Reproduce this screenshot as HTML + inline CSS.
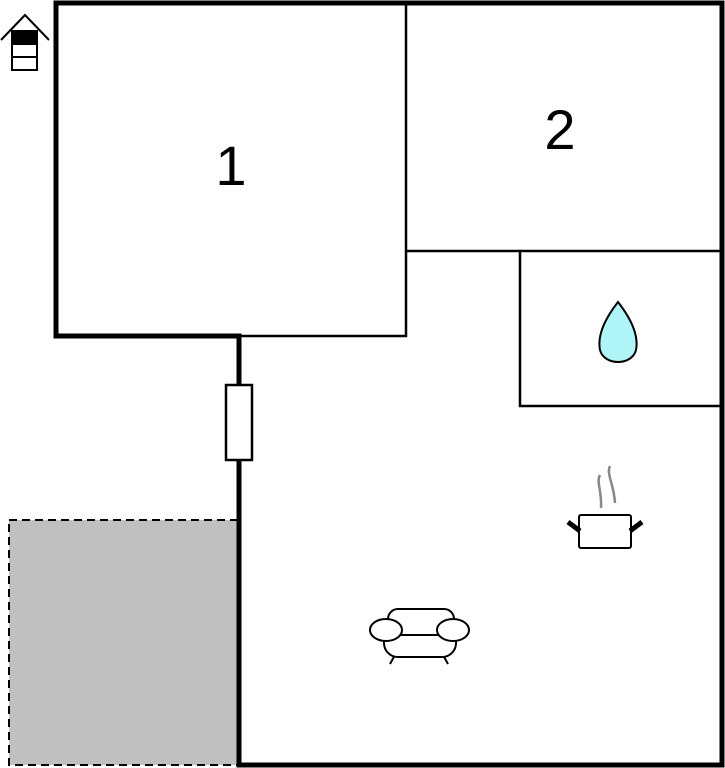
<!DOCTYPE html>
<html><head><meta charset="utf-8"><style>html,body{margin:0;padding:0;background:#fff}svg{display:block}</style></head>
<body>
<svg width="725" height="768" viewBox="0 0 725 768" xmlns="http://www.w3.org/2000/svg">
<rect x="9" y="520" width="229" height="245" fill="#c0c0c0" stroke="#000" stroke-width="2" stroke-dasharray="8,5"/>
<g stroke="#000" fill="none">
<path d="M56 3H722V765H239V336H56Z" stroke-width="5"/>
<path d="M406 3V336H239" stroke-width="2.5"/>
<path d="M406 251H720" stroke-width="2.5"/>
<path d="M520 251V406H720" stroke-width="2.5"/>
</g>
<rect x="226" y="385" width="26" height="75" fill="#fff" stroke="#000" stroke-width="2.5"/>
<text x="231" y="185" font-family="Liberation Sans, sans-serif" font-size="56" text-anchor="middle">1</text>
<text x="560" y="149" font-family="Liberation Sans, sans-serif" font-size="56" text-anchor="middle">2</text>
<path d="M618 302 C600 325 598 340 600 350 C604 366 632 366 636 350 C638 340 636 325 618 302Z" fill="#aff4f7" stroke="#000" stroke-width="2"/>
<!-- house icon -->
<g stroke="#000" fill="none" stroke-width="2">
<path d="M1 40L25 15L49 40"/>
<rect x="12" y="31" width="25" height="39" fill="#fff"/>
<rect x="12" y="31" width="25" height="13" fill="#000"/>
<path d="M12 57H37"/>
</g>
<!-- pot -->
<g stroke="#000" fill="none">
<rect x="579" y="515" width="52" height="33" rx="2" fill="#fff" stroke-width="2"/>
<path d="M568 522L580 531M642 522L630 531" stroke-width="5"/>
</g>
<path d="M600 475C596 482 602 490 601 508M610 466C606 474 614 484 615 503" stroke="#888" stroke-width="2.5" fill="none"/>
<!-- sofa -->
<g stroke="#000" stroke-width="2" fill="#fff">
<path d="M395 655L390 664M443 655L448 664" fill="none"/>
<rect x="384" y="625" width="72" height="32" rx="14"/>
<rect x="388" y="609" width="66" height="26" rx="10"/>
<ellipse cx="386" cy="630" rx="16" ry="11"/>
<ellipse cx="453" cy="630" rx="16" ry="11"/>
</g>
</svg>
</body></html>
